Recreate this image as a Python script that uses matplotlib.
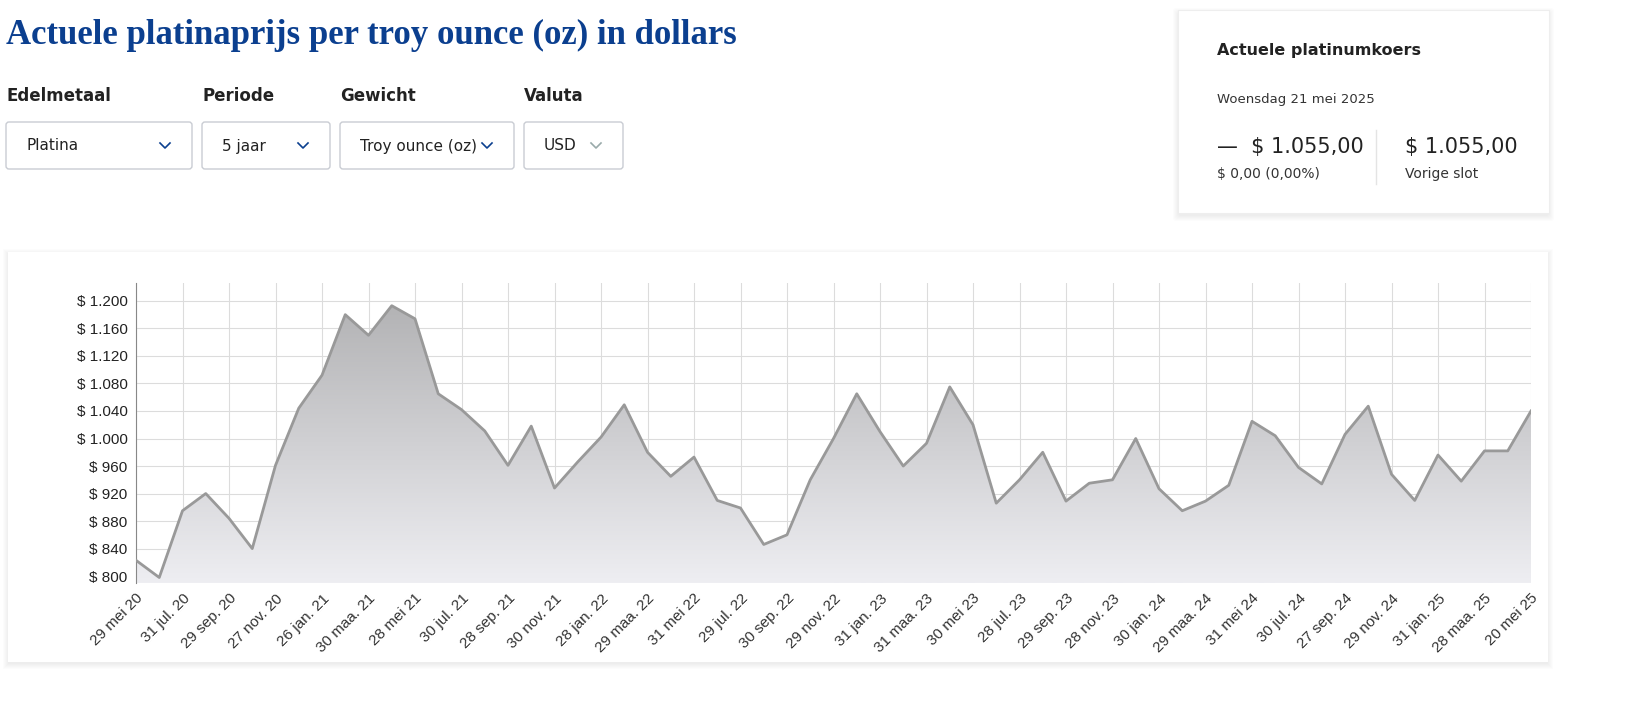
import matplotlib.pyplot as plt
from matplotlib.patches import FancyBboxPatch, Rectangle, Polygon
from matplotlib.colors import LinearSegmentedColormap
import numpy as np

W, H = 1625, 706

prices = [823, 798, 895, 920, 884, 840, 961, 1044, 1092, 1180, 1150, 1193, 1174,
          1065, 1042, 1011, 961, 1018, 928, 966, 1002, 1049, 980, 945, 973, 910,
          899, 846, 860, 940, 1000, 1065, 1010, 960, 993, 1075, 1020, 906, 940,
          980, 909, 935, 940, 1000, 927, 895, 909, 932, 1025, 1004, 958, 934,
          1006, 1047, 948, 910, 976, 938, 982, 982, 1040]
tick_labels = ["29 mei 20", "31 jul. 20", "29 sep. 20", "27 nov. 20", "26 jan. 21",
               "30 maa. 21", "28 mei 21", "30 jul. 21", "28 sep. 21", "30 nov. 21",
               "28 jan. 22", "29 maa. 22", "31 mei 22", "29 jul. 22", "30 sep. 22",
               "29 nov. 22", "31 jan. 23", "31 maa. 23", "30 mei 23", "28 jul. 23",
               "29 sep. 23", "28 nov. 23", "30 jan. 24", "29 maa. 24", "31 mei 24",
               "30 jul. 24", "27 sep. 24", "29 nov. 24", "31 jan. 25", "28 maa. 25",
               "20 mei 25"]
y_ticks = list(range(800, 1201, 40))
dropdowns = [("Edelmetaal", "Platina", 6, 192), ("Periode", "5 jaar", 202, 330),
             ("Gewicht", "Troy ounce (oz)", 340, 514), ("Valuta", "USD", 524, 623)]

fig = plt.figure(figsize=(W / 100, H / 100), dpi=100)
bg = fig.add_axes([0, 0, 1, 1])
bg.set_xlim(0, W)
bg.set_ylim(H, 0)
bg.axis("off")

blue = "#0b3f8f"
bg.text(6, 35, "Actuele platinaprijs per troy ounce (oz) in dollars", fontsize=25,
        fontweight="bold", family="Liberation Serif", color=blue, va="center")

for label, value, x0, x1 in dropdowns:
    bg.text(x0, 96, label, fontsize=12, fontweight="bold", color="#222", va="center")
    bg.add_patch(FancyBboxPatch((x0, 122), x1 - x0, 47, boxstyle="round,pad=0,rounding_size=3",
                                fc="white", ec="#c9ccd3", lw=1))
    bg.text(x0 + 20, 146, value, fontsize=11, color="#222", va="center")
    cx = x1 - 27
    col = "#9aa" if value == "USD" else blue
    bg.plot([cx - 5, cx, cx + 5], [143, 148, 143], color=col, lw=1.2)

# shadowed card
for i in range(6):
    bg.add_patch(FancyBboxPatch((1178 - i, 10 - i + 3), 371 + 2 * i, 203 + 2 * i,
                                boxstyle="round,pad=0,rounding_size=3", fc="#000",
                                ec="none", alpha=0.012))
bg.add_patch(Rectangle((1178, 10), 371, 203, fc="white", ec="#eeeeee", lw=0.8))
bg.text(1217, 51, "Actuele platinumkoers", fontsize=11.5, fontweight="bold", color="#222", va="center")
bg.text(1217, 100, "Woensdag 21 mei 2025", fontsize=9.5, color="#333", va="center")
bg.text(1217, 147, "—  $ 1.055,00", fontsize=15, color="#222", va="center")
bg.text(1217, 174, "$ 0,00 (0,00%)", fontsize=10, color="#333", va="center")
bg.plot([1376, 1376], [130, 184], color="#e4e4e4", lw=1)
bg.text(1405, 147, "$ 1.055,00", fontsize=15, color="#222", va="center")
bg.text(1405, 174, "Vorige slot", fontsize=10, color="#333", va="center")

# chart panel
for i in range(6):
    bg.add_patch(Rectangle((8 - i, 252 - i + 2), 1540 + 2 * i, 410 + 2 * i, fc="#000",
                           ec="none", alpha=0.01))
bg.add_patch(Rectangle((8, 252), 1540, 410, fc="white", ec="none"))

ax = fig.add_axes([136 / W, 1 - 583 / H, (1531 - 136) / W, (583 - 283) / H])
x = np.arange(len(prices))
ymin, ymax = 790, 1226
ax.set_xlim(0, len(prices) - 1)
ax.set_ylim(ymin, ymax)
grad = np.linspace(0, 1, 256).reshape(-1, 1)
cmap = LinearSegmentedColormap.from_list("g", ["#eeeef2", "#b3b3b5"])
im = ax.imshow(grad, cmap=cmap, aspect="auto", origin="lower",
               extent=[0, len(prices) - 1, ymin, max(prices)], zorder=1)
poly = Polygon(list(zip(x, prices)) + [(x[-1], ymin), (0, ymin)], closed=True,
               transform=ax.transData, fc="none", ec="none")
ax.add_patch(poly)
im.set_clip_path(poly)
ax.plot(x, prices, color="#999999", lw=2, zorder=3)

ax.set_xticks(x[::2])
ax.set_xticklabels(tick_labels, rotation=45, ha="right", rotation_mode="anchor",
                   fontsize=11, color="#333", family="Liberation Sans")
ax.set_yticks(y_ticks)
ax.set_yticklabels([f"$ {v:,}".replace(",", ".") for v in y_ticks], fontsize=11,
                   color="#222", family="Liberation Sans")
ax.grid(True, color="#dcdcdc", lw=0.8, zorder=0)
ax.set_axisbelow(True)
for s in ["top", "right", "bottom"]:
    ax.spines[s].set_visible(False)
ax.spines["left"].set_color("#888")
ax.tick_params(length=0, pad=6)

fig.savefig("out.png", dpi=100)
